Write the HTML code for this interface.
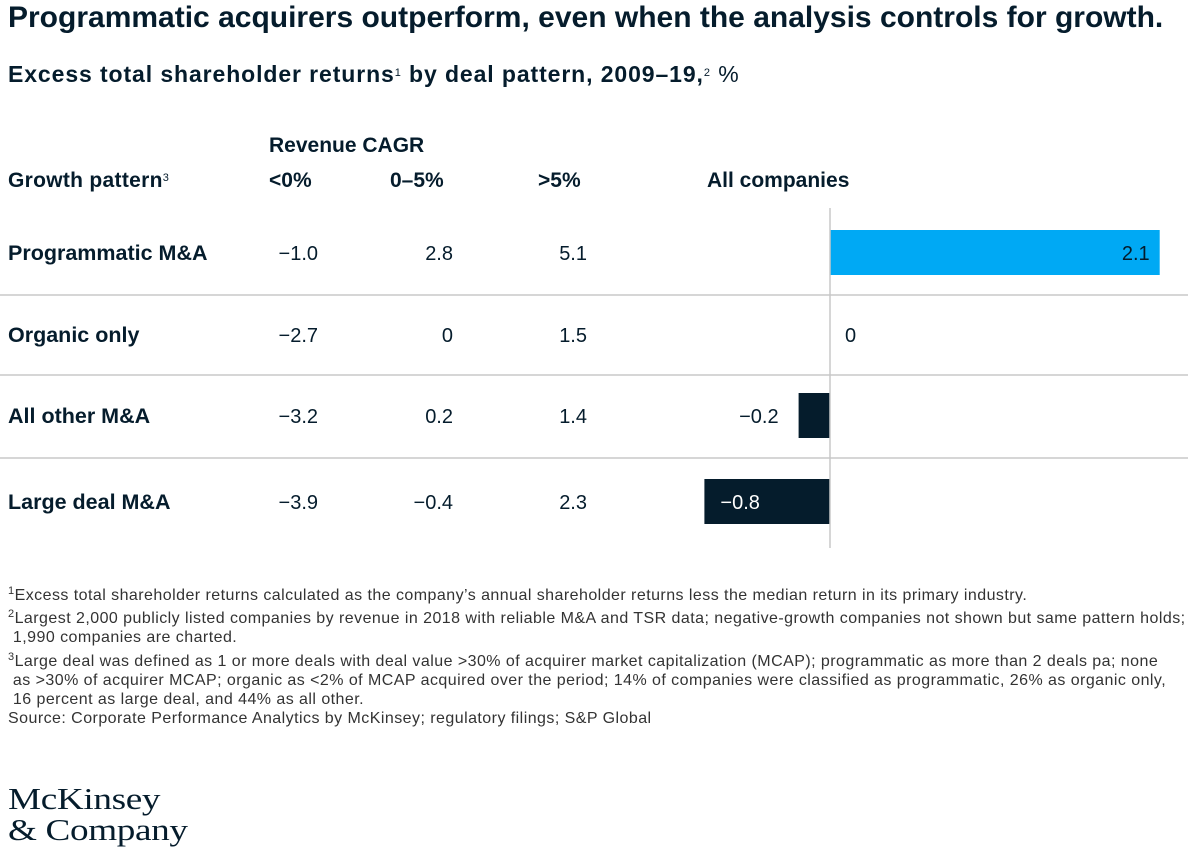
<!DOCTYPE html>
<html><head><meta charset="utf-8"><style>
body{margin:0;background:#fff;width:1200px;height:845px;overflow:hidden;font-family:"Liberation Sans",Arial,sans-serif;color:#051c2c;position:relative}
.a{position:absolute;white-space:nowrap}
.b{font-weight:bold}
.fn{font-size:16px;color:#333;line-height:19px;letter-spacing:0.45px}
sup{font-size:11px;vertical-align:6px;font-weight:normal}
</style></head><body>
<div class="a b" style="left:8px;top:1px;font-size:30px">Programmatic acquirers outperform, even when the analysis controls for growth.</div>
<div class="a b" style="left:8px;top:61px;font-size:23px;letter-spacing:0.9px">Excess total shareholder returns<sup>1</sup> by deal pattern, 2009–19,<sup>2</sup> <span style="font-weight:normal">%</span></div>
<div class="a b" style="left:269px;top:134px;font-size:21px">Revenue CAGR</div>
<div class="a b" style="left:8px;top:169px;font-size:21px;letter-spacing:0.3px">Growth pattern<sup>3</sup></div>
<div class="a b" style="left:269px;top:169px;font-size:21px">&lt;0%</div>
<div class="a b" style="left:390px;top:169px;font-size:21px">0–5%</div>
<div class="a b" style="left:538px;top:169px;font-size:21px">&gt;5%</div>
<div class="a b" style="left:707px;top:169px;font-size:21px">All companies</div>
<svg class="a" style="left:0;top:0" width="1200" height="560" id="chart"></svg>
<div class="a fn" style="left:8px;top:582px"><sup>1</sup>Excess total shareholder returns calculated as the company’s annual shareholder returns less the median return in its primary industry.</div>
<div class="a fn" style="left:8px;top:605px"><sup>2</sup>Largest 2,000 publicly listed companies by revenue in 2018 with reliable M&amp;A and TSR data; negative-growth companies not shown but same pattern holds;<br>&nbsp;1,990 companies are charted.</div>
<div class="a fn" style="left:8px;top:648px"><sup>3</sup>Large deal was defined as 1 or more deals with deal value &gt;30% of acquirer market capitalization (MCAP); programmatic as more than 2 deals pa; none<br>&nbsp;as &gt;30% of acquirer MCAP; organic as &lt;2% of MCAP acquired over the period; 14% of companies were classified as programmatic, 26% as organic only,<br>&nbsp;16 percent as large deal, and 44% as all other.</div>
<div class="a fn" style="left:8px;top:709px">Source: Corporate Performance Analytics by McKinsey; regulatory filings; S&amp;P Global</div>
<div class="a" style="left:8px;top:783px;font-family:'Liberation Serif',serif;font-size:31px;line-height:31px;letter-spacing:-0.3px;transform:scaleX(1.2);transform-origin:0 0">McKinsey<br>&amp; Company</div>
<script>
const categories=["Programmatic M&A","Organic only","All other M&A","Large deal M&A"];
const cagrNeg=["−1.0","−2.7","−3.2","−3.9"];
const cagrLow=["2.8","0","0.2","−0.4"];
const cagrHigh=["5.1","1.5","1.4","2.3"];
const allValues=[2.1,0,-0.2,-0.8];
const svg=document.getElementById('chart');
const NS='http://www.w3.org/2000/svg';
const x0=830,scale=157;
const xs=v=>x0+v*scale;
const rowY=i=>[253,335,416,502][i];
function mk(t,a){const e=document.createElementNS(NS,t);for(const k in a)e.setAttribute(k,a[k]);svg.appendChild(e);return e;}
[295,375,458].forEach(y=>{const l=mk('line',{x1:0,x2:1188,y1:y,y2:y,stroke:'#c8c8c8','stroke-width':1.5});

});
const fmt=v=>v===0?"0":(v<0?"−":"")+Math.abs(v).toFixed(1);
categories.forEach((c,i)=>{
 const y=rowY(i);
 const t=mk('text',{x:8,y:y+7,'font-size':21.5,'font-weight':'bold',fill:'#051c2c'});t.textContent=c;
 
 
 [[cagrNeg,318],[cagrLow,453],[cagrHigh,587]].forEach(([arr,xx])=>{
  const v=mk('text',{x:xx,y:y+7,'font-size':20,'text-anchor':'end',fill:'#051c2c'});v.textContent=arr[i];
  
  
 });
 const val=allValues[i];
 if(val!==0){
  const xa=Math.min(xs(val),x0),w=Math.abs(xs(val)-x0);
  const r=mk('rect',{x:xa,y:y-23,width:w,height:45,fill:val>0?'#00a9f4':'#051c2c'});
  
  
 }
 let lx,anchor='start',col='#051c2c';
 if(val>0){lx=xs(val)-10;anchor='end';}
 else if(val===0){lx=x0+15;}
 else if(Math.abs(val)*scale>80){lx=xs(val)+16;col='#fff';}
 else{lx=xs(val)-20;anchor='end';}
 const lt=mk('text',{x:lx,y:y+7,'font-size':20,'text-anchor':anchor,fill:col});lt.textContent=fmt(val);
 
 
});
const ax=mk('line',{x1:x0,x2:x0,y1:208,y2:548,stroke:'#c8c8c8','stroke-width':1.5});


</script>
</body></html>
